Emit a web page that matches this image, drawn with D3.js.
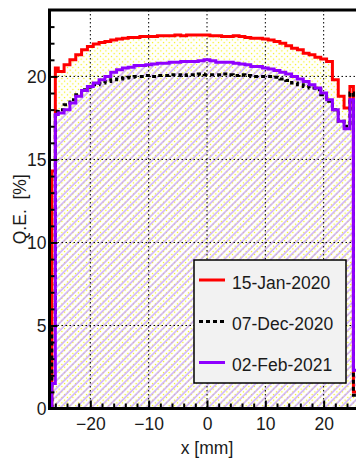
<!DOCTYPE html>
<html>
<head>
<meta charset="utf-8">
<script src="https://cdn.jsdelivr.net/npm/d3@7"></script>
<style>
  html, body { margin: 0; padding: 0; background: #fff; }
  svg { display: block; font-family: "Liberation Sans", Arial, Helvetica, sans-serif; }
</style>
</head>
<body>
<svg id="chart" width="356" height="462"></svg>
<script>
// Bin edges along x [mm]: narrow border bins at both ends, 1 mm bins in between
const binEdges = [-26.6, -26.0,
  -25.5, -24.5, -23.5, -22.5, -21.5, -20.5, -19.5, -18.5, -17.5, -16.5,
  -15.5, -14.5, -13.5, -12.5, -11.5, -10.5, -9.5, -8.5, -7.5, -6.5,
  -5.5, -4.5, -3.5, -2.5, -1.5, -0.5, 0.5, 1.5, 2.5, 3.5,
  4.5, 5.5, 6.5, 7.5, 8.5, 9.5, 10.5, 11.5, 12.5, 13.5,
  14.5, 15.5, 16.5, 17.5, 18.5, 19.5, 20.5, 21.5, 22.5, 23.5,
  24.5, 25.1, 27];

// Quantum efficiency [%] per bin
const qeJan2020 = [14.3,
  20.5, 20.3, 20.7, 21.0, 21.3, 21.6, 21.8, 21.95, 22.05, 22.1,
  22.2, 22.25, 22.3, 22.35, 22.35, 22.4, 22.4, 22.4, 22.45, 22.45,
  22.45, 22.5, 22.45, 22.5, 22.5, 22.5, 22.5,
  22.45, 22.45, 22.4, 22.4, 22.45, 22.4, 22.35, 22.3, 22.3, 22.25,
  22.2, 22.1, 22.0, 21.85, 21.7, 21.6, 21.4, 21.3, 21.15, 21.05,
  20.9, 19.8, 18.8, 18.1,
  19.4, 1.0];

const qeDec2020 = [4.8,
  17.9, 18.0, 18.3, 18.6, 18.9, 19.2, 19.35, 19.5, 19.6, 19.7,
  19.8, 19.85, 19.9, 19.95, 20.0, 20.0, 20.05, 20.0, 20.05, 20.05,
  20.1, 20.1, 20.05, 20.1, 20.1, 20.15, 20.1,
  20.1, 20.1, 20.15, 20.1, 20.05, 20.1, 20.05, 20.0, 20.0, 20.0,
  20.0, 19.95, 19.85, 19.75, 19.6, 19.5, 19.4, 19.3, 19.2, 18.9,
  18.5, 18.0, 17.3, 17.0,
  19.0, 0.8];

const qeFeb2021 = [1.5,
  17.7, 17.8, 18.0, 18.4, 18.8, 19.15, 19.4, 19.6, 19.8, 20.0,
  20.25, 20.4, 20.5, 20.55, 20.65, 20.65, 20.7, 20.75, 20.8, 20.8,
  20.85, 20.85, 20.9, 20.9, 20.9, 20.95, 21.0,
  20.95, 20.85, 20.85, 20.85, 20.8, 20.75, 20.7, 20.6, 20.6, 20.5,
  20.45, 20.35, 20.25, 20.15, 20.0, 19.85, 19.7, 19.5, 19.3, 19.0,
  18.6, 18.0, 17.3, 16.85,
  18.6, 2.3];

const seriesLabels = ["15-Jan-2020", "07-Dec-2020", "02-Feb-2021"];
const xMajorTicks = [-20, -10, 0, 10, 20];
const yMajorTicks = [0, 5, 10, 15, 20];

const svg = d3.select("#chart");
const plot = { left: 49.5, right: 364.5, top: 10, bottom: 408.5 };

const x = d3.scaleLinear().domain([-27, 27]).range([plot.left, plot.right]);
const y = d3.scaleLinear().domain([0, 24]).range([plot.bottom, plot.top]);

const defs = svg.append("defs");

// yellow dotted fill
const dots = defs.append("pattern").attr("id", "dots")
  .attr("patternUnits", "userSpaceOnUse").attr("width", 5.5).attr("height", 5.5);
dots.append("rect").attr("x", 0.8).attr("y", 0.8).attr("width", 1.2).attr("height", 1.2).attr("fill", "#f5f000");
dots.append("rect").attr("x", 3.55).attr("y", 3.55).attr("width", 1.2).attr("height", 1.2).attr("fill", "#f5f000");

// violet diagonal hatch
const hatch = defs.append("pattern").attr("id", "hatch")
  .attr("patternUnits", "userSpaceOnUse").attr("width", 5.5).attr("height", 10)
  .attr("patternTransform", "rotate(45)");
hatch.append("line").attr("x1", 1).attr("x2", 1).attr("y1", 0).attr("y2", 10)
  .attr("stroke", "#c09af5").attr("stroke-width", 1.2);

defs.append("clipPath").attr("id", "plotClip").append("rect")
  .attr("x", plot.left).attr("y", plot.top)
  .attr("width", plot.right - plot.left).attr("height", plot.bottom - plot.top);

// step outline of a histogram, dropping to zero at both ends
function stepPoints(values) {
  const pts = [[binEdges[0], 0]];
  values.forEach((v, i) => {
    pts.push([binEdges[i], v]);
    pts.push([binEdges[i + 1], v]);
  });
  pts.push([binEdges[binEdges.length - 1], 0]);
  return pts;
}
const line = d3.line().x(d => x(d[0])).y(d => y(d[1]));
const area = d3.area().x(d => x(d[0])).y0(y(0)).y1(d => y(d[1]));

const g = svg.append("g").attr("clip-path", "url(#plotClip)");

g.append("path").attr("d", area(stepPoints(qeJan2020))).attr("fill", "url(#dots)");
g.append("path").attr("d", area(stepPoints(qeFeb2021))).attr("fill", "url(#hatch)");

// dotted grid
const grid = g.append("g").attr("stroke", "#000").attr("stroke-width", 1)
  .attr("stroke-dasharray", "1.5,2.5");
grid.selectAll("line.gx").data(xMajorTicks).join("line")
  .attr("x1", d => x(d)).attr("x2", d => x(d)).attr("y1", plot.top).attr("y2", plot.bottom);
grid.selectAll("line.gy").data(yMajorTicks.filter(d => d > 0)).join("line")
  .attr("y1", d => y(d)).attr("y2", d => y(d)).attr("x1", plot.left).attr("x2", plot.right);

const series = [
  { values: qeJan2020, color: "#ff0000", dash: null },
  { values: qeDec2020, color: "#000000", dash: "4,3" },
  { values: qeFeb2021, color: "#8f00ff", dash: null }
];
series.forEach(s => {
  g.append("path").attr("d", line(stepPoints(s.values)))
    .attr("fill", "none").attr("stroke", s.color).attr("stroke-width", 3)
    .attr("stroke-dasharray", s.dash).attr("stroke-linejoin", "miter");
});

// axes with ticks pointing into the frame
const xMinor = d3.range(-26, 27, 2);
const yMinor = d3.range(0, 24, 1);

const xAxis = svg.append("g").attr("transform", `translate(0,${plot.bottom})`)
  .call(d3.axisBottom(x).tickValues(xMajorTicks).tickSizeInner(-8).tickSizeOuter(0).tickPadding(9.5));
xAxis.select(".domain").remove();
svg.append("g").attr("transform", `translate(0,${plot.bottom})`)
  .call(d3.axisBottom(x).tickValues(xMinor.filter(d => !xMajorTicks.includes(d))).tickSizeInner(-5).tickSizeOuter(0).tickFormat(""))
  .select(".domain").remove();

const yAxis = svg.append("g").attr("transform", `translate(${plot.left},0)`)
  .call(d3.axisLeft(y).tickValues(yMajorTicks).tickSizeInner(-8).tickSizeOuter(0).tickPadding(3));
yAxis.select(".domain").remove();
svg.append("g").attr("transform", `translate(${plot.left},0)`)
  .call(d3.axisLeft(y).tickValues(yMinor.filter(d => !yMajorTicks.includes(d))).tickSizeInner(-5).tickSizeOuter(0).tickFormat(""))
  .select(".domain").remove();

svg.selectAll(".tick line").attr("stroke", "#000").attr("stroke-width", 2);
svg.selectAll(".tick text").attr("font-size", 17.5).attr("fill", "#1a1a1a")
  .attr("font-family", "Liberation Sans, Arial, sans-serif");

// frame
svg.append("path")
  .attr("d", `M${plot.right},${plot.top}H${plot.left}V${plot.bottom}H${plot.right}`)
  .attr("fill", "none").attr("stroke", "#000").attr("stroke-width", 3);

// axis titles
svg.append("text").attr("x", (plot.left + plot.right) / 2).attr("y", 454)
  .attr("text-anchor", "middle").attr("font-size", 17.5).attr("fill", "#1a1a1a")
  .text("x [mm]");
svg.append("text").attr("transform", `translate(26,${(plot.top + plot.bottom) / 2}) rotate(-90)`)
  .attr("text-anchor", "middle").attr("font-size", 17.5).attr("fill", "#1a1a1a")
  .attr("xml:space", "preserve").style("white-space", "pre")
  .text("Q.E.  [%]");

// legend
const legend = svg.append("g");
legend.append("rect").attr("x", 194).attr("y", 260).attr("width", 152).attr("height", 123)
  .attr("fill", "#f2f2f2").attr("stroke", "#000").attr("stroke-width", 1.5);
const rowY = [280, 321.5, 362.5];
series.forEach((s, i) => {
  legend.append("line").attr("x1", 199).attr("x2", 225).attr("y1", rowY[i]).attr("y2", rowY[i])
    .attr("stroke", s.color).attr("stroke-width", 3).attr("stroke-dasharray", s.dash);
  legend.append("text").attr("x", 232).attr("y", rowY[i] + 8.5)
    .attr("font-size", 17.5).attr("fill", "#1a1a1a").text(seriesLabels[i]);
});
</script>
</body>
</html>
